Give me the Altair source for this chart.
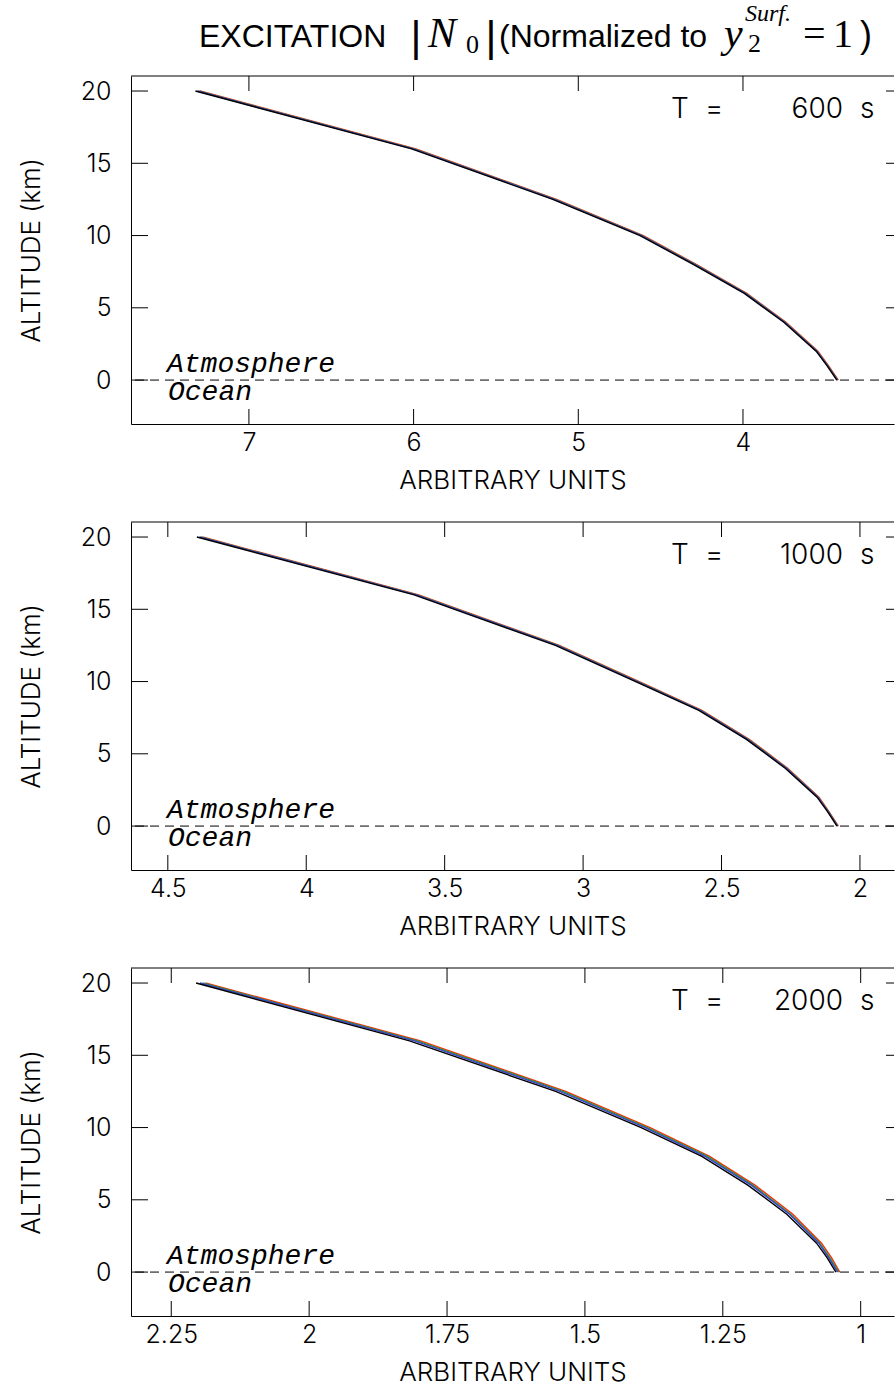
import altair as alt
import pandas as pd

# Altitude levels (km) at which each excitation profile is sampled
ALTITUDE = [0, 1, 2, 4, 6, 8, 10, 12.5, 16, 20]

SERIES = ["red", "green", "blue", "black"]
SERIES_COLORS = ["#ff2a00", "#1e9e3c", "#4040d0", "#000000"]

# |N0| profiles, period 600 s
N0_600_RED = [3.421, 3.481, 3.545, 3.739, 3.977, 4.284, 4.605, 5.132, 5.986, 7.297]
N0_600_GREEN = [3.425, 3.485, 3.550, 3.744, 3.983, 4.291, 4.613, 5.141, 5.997, 7.308]
N0_600_BLUE = [3.427, 3.487, 3.552, 3.747, 3.986, 4.295, 4.617, 5.146, 6.002, 7.314]
N0_600_BLACK = [3.430, 3.490, 3.556, 3.752, 3.992, 4.302, 4.625, 5.155, 6.012, 7.325]

# |N0| profiles, period 1000 s
N0_1000_RED = [2.078, 2.112, 2.148, 2.261, 2.400, 2.571, 2.797, 3.086, 3.594, 4.375]
N0_1000_GREEN = [2.080, 2.114, 2.151, 2.264, 2.404, 2.575, 2.802, 3.091, 3.600, 4.382]
N0_1000_BLUE = [2.081, 2.115, 2.152, 2.266, 2.406, 2.577, 2.805, 3.094, 3.603, 4.386]
N0_1000_BLACK = [2.083, 2.117, 2.155, 2.270, 2.410, 2.582, 2.810, 3.100, 3.610, 4.395]

# |N0| profiles, period 2000 s
N0_2000_RED = [1.038, 1.053, 1.071, 1.123, 1.191, 1.274, 1.382, 1.535, 1.798, 2.188]
N0_2000_GREEN = [1.040, 1.056, 1.074, 1.127, 1.195, 1.278, 1.387, 1.540, 1.804, 2.193]
N0_2000_BLUE = [1.042, 1.058, 1.076, 1.129, 1.198, 1.282, 1.391, 1.545, 1.809, 2.198]
N0_2000_BLACK = [1.045, 1.061, 1.080, 1.134, 1.204, 1.288, 1.398, 1.553, 1.818, 2.205]

PERIODS = ["600", "1000", "2000"]
CURVES = [
    [N0_600_RED, N0_600_GREEN, N0_600_BLUE, N0_600_BLACK],
    [N0_1000_RED, N0_1000_GREEN, N0_1000_BLUE, N0_1000_BLACK],
    [N0_2000_RED, N0_2000_GREEN, N0_2000_BLUE, N0_2000_BLACK],
]
X_DOMAINS = [[3.083, 7.716], [1.877, 4.633], [0.9396, 2.323]]
X_TICKS = [[4, 5, 6, 7], [2, 2.5, 3, 3.5, 4, 4.5], [1, 1.25, 1.5, 1.75, 2, 2.25]]
Y_TICKS = [0, 5, 10, 15, 20]
Y_DOMAIN = [-3.04, 21.04]

W, H = 763, 348
SANS = "Inter"
LIGHT = 300
MONO_IT = "Liberation Mono"
HEAD = "Liberation Sans"
SERIF = "Liberation Serif"

ONE = pd.DataFrame({"k": [0]})


def label(text, x, y, font, size, style="normal", align="left", weight="normal"):
    return (
        alt.Chart(ONE)
        .mark_text(text=text, font=font, fontSize=size, fontStyle=style, fontWeight=weight,
                   align=align, baseline="alphabetic", color="black")
        .encode(x=alt.value(x), y=alt.value(y))
    )


def panel(period, curves, domain, ticks, with_title):
    rows = []
    for name, vals in zip(SERIES, curves):
        for a, v in zip(ALTITUDE, vals):
            rows.append({"series": name, "altitude": a, "value": v})
    df = pd.DataFrame(rows)

    xs = alt.Scale(domain=domain, reverse=True, nice=False, zero=False)
    ys = alt.Scale(domain=Y_DOMAIN, nice=False, zero=False)
    x_axis = alt.Axis(
        values=ticks, labelExpr="'' + datum.value", title="ARBITRARY UNITS",
        ticks=False, grid=False, domainColor="black", domainWidth=1,
        labelFont=SANS, labelFontSize=25, labelFontWeight=LIGHT,
        labelColor="black", labelPadding=6, labelFlush=False, labelOverlap=False,
        titleFont=SANS, titleFontSize=26, titleFontWeight=LIGHT,
        titleColor="black", titlePadding=12,
    )
    y_axis = alt.Axis(
        values=Y_TICKS, title="ALTITUDE (km)", ticks=False, grid=False,
        domainColor="black", domainWidth=1, labelFont=SANS, labelFontSize=25,
        labelFontWeight=LIGHT, labelColor="black", labelPadding=20,
        labelFlush=False, labelOverlap=False,
        titleFont=SANS, titleFontSize=26, titleFontWeight=LIGHT,
        titleColor="black", titlePadding=36,
    )

    lines = alt.Chart(df).mark_line(strokeWidth=1.4).encode(
        x=alt.X("value:Q", scale=xs, axis=x_axis),
        y=alt.Y("altitude:Q", scale=ys, axis=y_axis),
        color=alt.Color("series:N", scale=alt.Scale(domain=SERIES, range=SERIES_COLORS), legend=None),
        detail="series:N",
        order=alt.Order("altitude:Q"),
    )

    surface = alt.Chart(pd.DataFrame({"altitude": [0]})).mark_rule(
        color="black", strokeWidth=1, strokeDash=[9, 6]
    ).encode(y=alt.Y("altitude:Q", scale=ys, axis=y_axis))

    zero = pd.DataFrame({"altitude": [0]})
    atm = alt.Chart(zero).mark_text(
        text="Atmosphere", font=MONO_IT, fontSize=28, fontStyle="italic",
        align="left", baseline="alphabetic", dy=-8, color="black"
    ).encode(x=alt.value(36), y=alt.Y("altitude:Q", scale=ys, axis=y_axis))
    ocean = alt.Chart(zero).mark_text(
        text="Ocean", font=MONO_IT, fontSize=28, fontStyle="italic",
        align="left", baseline="alphabetic", dy=20, color="black"
    ).encode(x=alt.value(37), y=alt.Y("altitude:Q", scale=ys, axis=y_axis))

    # inward ticks on all four sides of the frame
    xt = pd.DataFrame({"value": ticks})
    yt = pd.DataFrame({"altitude": Y_TICKS})
    top_ticks = alt.Chart(xt).mark_rule(color="black").encode(
        x=alt.X("value:Q", scale=xs, axis=x_axis), y=alt.value(0), y2=alt.value(15))
    bot_ticks = alt.Chart(xt).mark_rule(color="black").encode(
        x=alt.X("value:Q", scale=xs, axis=x_axis), y=alt.value(H - 15), y2=alt.value(H))
    left_ticks = alt.Chart(yt).mark_rule(color="black").encode(
        y=alt.Y("altitude:Q", scale=ys, axis=y_axis), x=alt.value(0), x2=alt.value(17))
    right_ticks = alt.Chart(yt).mark_rule(color="black").encode(
        y=alt.Y("altitude:Q", scale=ys, axis=y_axis), x=alt.value(W - 8), x2=alt.value(W))
    top_border = alt.Chart(ONE).mark_rule(color="black", strokeWidth=1).encode(
        x=alt.value(0), x2=alt.value(W), y=alt.value(0))

    # period label, top right
    big = 28
    period_text = [
        label("T", 540, 42, SANS, big, weight=LIGHT),
        label("=", 574, 42, SANS, big, weight=LIGHT),
        label(period, 712, 42, SANS, big, align="right", weight=LIGHT),
        label("s", 729, 42, SANS, big, weight=LIGHT),
    ]

    layers = [surface, lines, atm, ocean, top_ticks, bot_ticks, left_ticks,
              right_ticks, top_border] + period_text

    if with_title:
        layers += [
            label("EXCITATION", 68, -29, HEAD, 32),
            label("|", 285, -25, HEAD, 42, align="center"),
            label("N", 297, -29, SERIF, 42, style="italic"),
            label("0", 335, -23, SERIF, 26),
            label("|", 360, -25, HEAD, 42, align="center"),
            label("(Normalized to", 368, -29, HEAD, 32),
            label("y", 593, -29, SERIF, 42, style="italic"),
            label("2", 617, -24, SERIF, 26),
            label("Surf.", 614, -55, SERIF, 24, style="italic"),
            label("=", 672, -29, SERIF, 40),
            label("1", 702, -29, SERIF, 40),
            label(")", 729, -29, HEAD, 36),
        ]

    return alt.layer(*layers).properties(width=W, height=H)


panels = [
    panel(PERIODS[i], CURVES[i], X_DOMAINS[i], X_TICKS[i], i == 0)
    for i in range(3)
]

chart = (
    alt.vconcat(*panels, spacing=28)
    .properties(padding={"left": 18, "top": 2, "right": 0, "bottom": 0}, background="white")
    .configure_view(stroke=None)
)

chart.save("out.html", embed_options={"renderer": "svg", "actions": False})
